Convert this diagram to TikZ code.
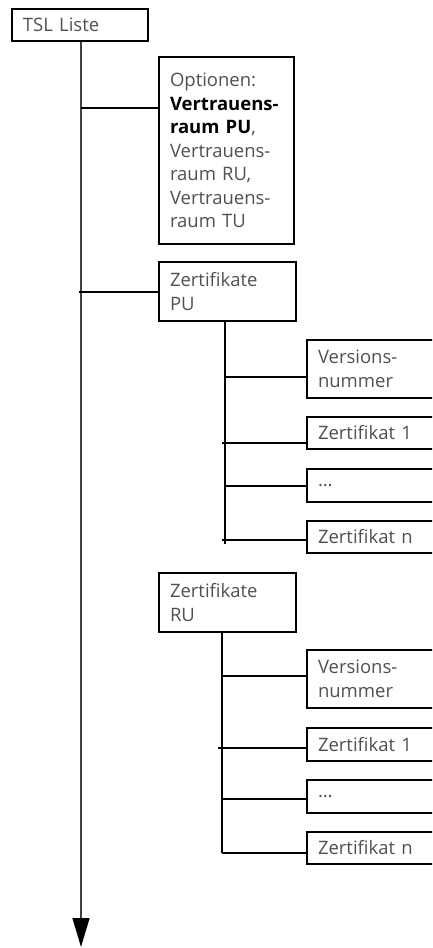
\documentclass[tikz,border=0pt]{standalone}
\usepackage{fontspec}
\setmainfont{Open Sans}
\usetikzlibrary{arrows.meta,calc}
\definecolor{txt}{HTML}{505050}
\begin{document}
\begin{tikzpicture}[x=1pt,y=-1pt,
  box/.style={draw=black,line width=2pt,rectangle,anchor=north west,inner xsep=11pt,inner ysep=0pt,
    align=left,text=txt,font=\fontsize{18.5}{23.5}\selectfont},
  conn/.style={draw=black,line width=2pt},
  mainline/.style={draw=black!75,line width=1.5pt}]
\useasboundingbox (0,0) rectangle (432,948);
\clip (0,0) rectangle (432,948);
% top box
\node[box,minimum width=136pt,minimum height=32pt,text width=114pt] (tsl) at (11,8) {TSL Liste};
\coordinate (arrowtip) at (81,947);
\node[box,minimum width=135pt,minimum height=187pt,text width=113pt] (opt) at (158,56)
  {Optionen:\\\textcolor{black}{\textbf{Vertrauens-}}\\\textcolor{black}{\textbf{raum PU}},\\Vertrauens-\\raum RU,\\Vertrauens-\\raum TU};
\node[box,minimum width=137pt,minimum height=59pt,text width=115pt] (zpu) at (158,261) {Zertifikate\\PU};
\node[box,minimum width=137pt,minimum height=59pt,text width=115pt] (zru) at (158,572) {Zertifikate\\RU};
% PU children
\node[box,minimum width=140pt,minimum height=58pt,text width=118pt] (pv) at (306,339) {Versions-\\nummer};
\node[box,minimum width=140pt,minimum height=32pt,text width=118pt] (pz1) at (306,416) {Zertifikat 1};
\node[box,minimum width=140pt,minimum height=33pt,text width=118pt] (pdots) at (306,468) {\dots};
\node[box,minimum width=140pt,minimum height=32pt,text width=118pt] (pzn) at (306,520) {Zertifikat n};
% RU children
\node[box,minimum width=140pt,minimum height=58pt,text width=118pt] (rv) at (306,649) {Versions-\\nummer};
\node[box,minimum width=140pt,minimum height=33pt,text width=118pt] (rz1) at (306,727) {Zertifikat 1};
\node[box,minimum width=140pt,minimum height=33pt,text width=118pt] (rdots) at (306,779) {\dots};
\node[box,minimum width=140pt,minimum height=32pt,text width=118pt] (rzn) at (306,831) {Zertifikat n};
% main line with arrow
\draw[mainline,-{Triangle[width=17pt,length=29pt,color=black]}] (tsl.south -| arrowtip) -- (arrowtip);
\draw[conn] (opt.west |- 0,108) -- (81,108);
\draw[conn] (zpu.west |- 0,292) -- (79,292);
% PU tree
\coordinate (pubot) at (225,544);
\draw[conn] (zpu.south -| pubot) -- (pubot);
\draw[conn] (pubot |- 0,377) -- (pv.west |- 0,377);
\draw[conn] (222,443) -- (pz1.west |- 0,443);
\draw[conn] (pubot |- 0,486) -- (pdots.west |- 0,486);
\draw[conn] (222,540) -- (pzn.west |- 0,540);
% RU tree
\coordinate (rubot) at (222,853);
\draw[conn] (zru.south -| rubot) -- (rubot);
\draw[conn] (rubot |- 0,676) -- (rv.west |- 0,676);
\draw[conn] (218,748) -- (rz1.west |- 0,748);
\draw[conn] (rubot |- 0,799) -- (rdots.west |- 0,799);
\draw[conn] (rubot) -- (rzn.west |- rubot);
\end{tikzpicture}
\end{document}
